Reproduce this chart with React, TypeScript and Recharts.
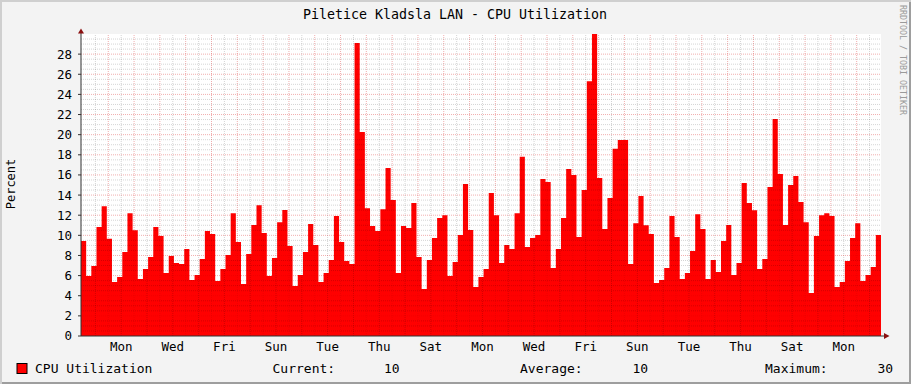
import { ComposedChart, Area, XAxis, YAxis, ReferenceLine } from 'recharts';

// CPU utilization in percent, one value per 4.8 h step (5 per day)
const cpuUtilization = [
  9.44, 5.96, 6.95, 10.83, 12.9, 9.67, 5.36, 5.86, 8.34, 12.2,
  10.5, 5.66, 6.66, 7.85, 10.83, 9.93, 6.26, 7.95, 7.25, 7.15,
  8.64, 5.56, 6.06, 7.65, 10.43, 10.13, 5.46, 6.66, 8.05, 12.2,
  9.34, 5.17, 8.15, 11.03, 13.0, 10.23, 5.96, 7.75, 11.3, 12.52,
  8.94, 4.97, 6.06, 8.34, 11.13, 9.04, 5.36, 6.26, 7.55, 11.92,
  9.34, 7.45, 7.15, 29.1, 20.26, 12.7, 10.93, 10.43, 12.6, 16.7,
  13.5, 6.26, 10.93, 10.73, 13.2, 7.85, 4.67, 7.55, 9.74, 11.72,
  12.0, 5.96, 7.35, 10.03, 15.1, 10.53, 4.87, 5.86, 6.66, 14.2,
  12.0, 7.25, 9.04, 8.64, 12.2, 17.8, 8.84, 9.74, 10.03, 15.6,
  15.3, 6.75, 8.64, 11.72, 16.6, 16.0, 9.83, 14.5, 25.3, 30.0,
  15.7, 10.63, 13.7, 18.6, 19.47, 19.47, 7.15, 11.2, 13.9, 11.0,
  10.13, 5.26, 5.56, 6.75, 11.92, 9.83, 5.66, 6.26, 8.44, 12.1,
  10.63, 5.66, 7.55, 6.36, 9.44, 11.03, 6.06, 7.25, 15.2, 13.2,
  12.5, 6.66, 7.65, 14.8, 21.56, 16.1, 11.03, 15.0, 15.9, 13.3,
  11.3, 4.27, 9.93, 12.0, 12.2, 11.92, 4.87, 5.36, 7.45, 9.74,
  11.2, 5.46, 6.06, 6.85, 10.03,
];

const dayLabels = ['Mon', 'Wed', 'Fri', 'Sun', 'Tue', 'Thu', 'Sat', 'Mon', 'Wed', 'Fri', 'Sun', 'Tue', 'Thu', 'Sat', 'Mon'];
const dayLabelTicks = [0.5, 2.5, 4.5, 6.5, 8.5, 10.5, 12.5, 14.5, 16.5, 18.5, 20.5, 22.5, 24.5, 26.5, 28.5];
const yTicks = [0, 2, 4, 6, 8, 10, 12, 14, 16, 18, 20, 22, 24, 26, 28];

// days relative to the first Monday 00:00
const FIRST_DAY = -1.057;
const STEP_DAYS = 0.2;
const LAST_DAY = FIRST_DAY + cpuUtilization.length * STEP_DAYS;

const data = [
  ...cpuUtilization.map((v, i) => ({ day: FIRST_DAY + i * STEP_DAYS, cpu: v })),
  { day: LAST_DAY, cpu: cpuUtilization[cpuUtilization.length - 1] },
];

const majorX = Array.from({ length: 30 }, (_, i) => i);
const minorX = Array.from({ length: 31 }, (_, i) => i - 0.5);
const majorY = yTicks.filter((v) => v > 0);
const minorY = Array.from({ length: 60 }, (_, i) => (i + 1) * 0.5).filter((v) => v % 2 !== 0);

const current = cpuUtilization[cpuUtilization.length - 1];
const average = cpuUtilization.reduce((a, b) => a + b, 0) / cpuUtilization.length;
const maximum = Math.max(...cpuUtilization);

const FONT = 'DejaVu Sans Mono';
const MINOR = 'rgba(0,0,0,0.17)';
const MAJOR = 'rgba(210,0,0,0.32)';

export default function App() {
  return (
    <div
      style={{
        position: 'absolute',
        left: 0,
        top: 0,
        width: 911,
        height: 384,
        background: '#F3F3F3',
        boxShadow: 'inset 2px 2px 0 #CFCFCF, inset -2px -2px 0 #9E9E9E',
      }}
    >
      <div style={{ position: 'absolute', left: 0, top: 0 }}>
        <ComposedChart
          width={911}
          height={384}
          data={data}
          margin={{ top: 34, right: 30, bottom: 0, left: 0 }}
        >
          <rect x={81} y={34} width={800} height={302} fill="#FFFFFF" />
          <XAxis
            type="number"
            dataKey="day"
            domain={[FIRST_DAY, LAST_DAY]}
            allowDataOverflow
            ticks={dayLabelTicks}
            interval={0}
            tickFormatter={(v: number) => dayLabels[dayLabelTicks.indexOf(v)] ?? ''}
            tickLine={false}
            tickSize={0}
            tickMargin={6}
            height={48}
            axisLine={{ stroke: '#333333' }}
            tick={{ fill: '#000000', fontFamily: FONT, fontSize: 12.5 }}
          />
          <YAxis
            type="number"
            domain={[0, 30]}
            allowDataOverflow
            ticks={yTicks}
            interval={0}
            width={81}
            tickSize={3}
            tickMargin={6}
            tickLine={{ stroke: '#333333' }}
            axisLine={{ stroke: '#333333' }}
            tick={{ fill: '#000000', fontFamily: FONT, fontSize: 12.5 }}
          />
          <Area
            type="stepAfter"
            dataKey="cpu"
            fill="#FF0000"
            fillOpacity={1}
            stroke="none"
            dot={false}
            activeDot={false}
            isAnimationActive={false}
          />
          {minorX.map((d) => (
            <ReferenceLine key={`mx${d}`} x={d} stroke={MINOR} strokeDasharray="1 1" />
          ))}
          {majorX.map((d) => (
            <ReferenceLine key={`Mx${d}`} x={d} stroke={MAJOR} strokeDasharray="1 1" />
          ))}
          {minorY.map((v) => (
            <ReferenceLine key={`my${v}`} y={v} stroke={MINOR} strokeDasharray="1 1" />
          ))}
          {majorY.map((v) => (
            <ReferenceLine key={`My${v}`} y={v} stroke={MAJOR} strokeDasharray="1 1" />
          ))}
        </ComposedChart>
      </div>
      <svg
        width={911}
        height={384}
        style={{ position: 'absolute', left: 0, top: 0, pointerEvents: 'none' }}
      >
        <text x={455} y={19} textAnchor="middle" fontFamily={FONT} fontSize={13.3} fill="#000">
          Piletice Kladsla LAN - CPU Utilization
        </text>
        <text
          x={15}
          y={184}
          transform="rotate(-90 15 184)"
          textAnchor="middle"
          fontFamily={FONT}
          fontSize={12}
          fill="#000"
        >
          Percent
        </text>
        <text
          x={900}
          y={5}
          transform="rotate(90 900 5)"
          fontFamily={FONT}
          fontSize={8.3}
          fill="#9A9A9A"
        >
          RRDTOOL / TOBI OETIKER
        </text>
        {/* axis arrows */}
        <line x1={81} y1={34} x2={81} y2={31} stroke="#333333" />
        <polygon points="78,33.5 84,33.5 81,28.5" fill="#8B1010" />
        <line x1={881} y1={336} x2={884} y2={336} stroke="#333333" />
        <polygon points="884,333 884,339 889.5,336" fill="#8B1010" />
        {/* legend */}
        <rect x={17} y={363.5} width={10} height={10} fill="#FF0000" stroke="#000" />
        <g fontFamily={FONT} fontSize={13} fill="#000">
          <text x={35} y={373}>CPU Utilization</text>
          <text x={272.5} y={373}>Current:</text>
          <text x={384} y={373}>{current.toFixed(0)}</text>
          <text x={520} y={373}>Average:</text>
          <text x={632.5} y={373}>{average.toFixed(0)}</text>
          <text x={765} y={373}>Maximum:</text>
          <text x={877.5} y={373}>{maximum.toFixed(0)}</text>
        </g>
      </svg>
    </div>
  );
}
